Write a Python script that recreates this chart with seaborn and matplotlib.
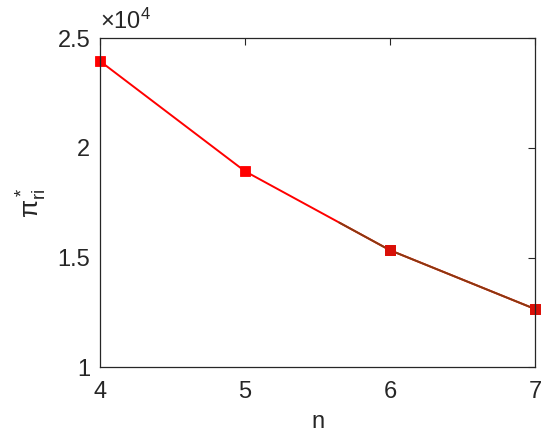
import numpy as np
import pandas as pd
import matplotlib
matplotlib.use("Agg")
import matplotlib.pyplot as plt
import matplotlib.ticker as mticker
import seaborn as sns

# data
n_values = [4, 5, 6, 7]
pi_ri = [23950, 18930, 15330, 12650]
# darker overlay seen on the right part of the curve
overlay_n = [5.65, 6, 7]
overlay_pi = [16590, 15330, 12650]
y_ticks = [10000, 15000, 20000, 25000]

sns.set_style("white")
plt.rcParams['font.family'] = ['Liberation Sans', 'DejaVu Sans']
plt.rcParams['mathtext.fontset'] = 'custom'
plt.rcParams['mathtext.rm'] = 'Liberation Sans'
plt.rcParams['mathtext.it'] = 'Liberation Sans:italic'

df = pd.DataFrame({'n': n_values, 'pi': pi_ri})
df_o = pd.DataFrame({'n': overlay_n, 'pi': overlay_pi})

fig = plt.figure(figsize=(5.5, 4.44), dpi=100)
ax = fig.add_axes([0.182, 0.173, 0.791, 0.741])

sns.lineplot(data=df, x='n', y='pi', ax=ax, color='#ff0000', linewidth=1.4,
             marker='s', markersize=7.5, markeredgewidth=0.6,
             markeredgecolor='#ff0000', markerfacecolor='#ff0000', clip_on=False)
sns.lineplot(data=df_o, x='n', y='pi', ax=ax, color='#8a3a10', linewidth=1.4)
ax.plot(n_values[2:], pi_ri[2:], linestyle='none', marker='s', markersize=7.5,
        markeredgewidth=0.6, markeredgecolor='#d81008', color='#d81008', clip_on=False)

ax.set_xlim(4, 7)
ax.set_ylim(10000, 25000)
ax.set_xticks([4, 5, 6, 7])
ax.set_yticks(y_ticks)
ax.yaxis.set_major_formatter(mticker.FuncFormatter(lambda v, p: f'{v / 1e4:g}'))
ax.text(0.0, 1.012, r'$\mathregular{\times10^4}$', transform=ax.transAxes,
        fontsize=17, color='#262626', ha='left', va='bottom')

ax.set_xlabel('n', fontsize=17, color='#262626', labelpad=6)
ax.set_ylabel(r'$\mathregular{π^*_{ri}}$', fontsize=19, color='#262626', labelpad=6)

ax.tick_params(direction='in', length=5, width=0.8, labelsize=17,
               colors='#262626', top=True, right=True)
ax.tick_params(axis='x', pad=10)
ax.tick_params(axis='y', pad=7)
for s in ax.spines.values():
    s.set_color('#262626')
    s.set_linewidth(0.9)

fig.savefig('out.png', dpi=100)
